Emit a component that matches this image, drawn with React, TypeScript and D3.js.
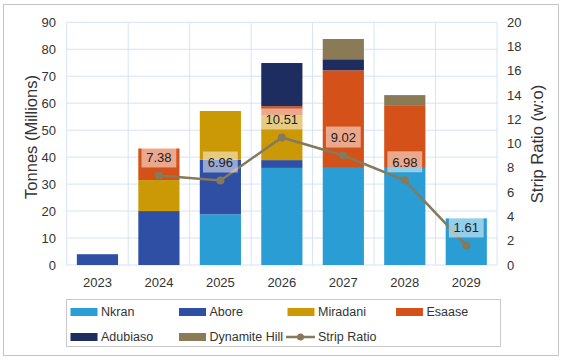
import React from 'react';
import * as d3 from 'd3';

const years = ['2023', '2024', '2025', '2026', '2027', '2028', '2029'];
const nkran = [0, 0, 18.8, 36, 36, 36, 17.3];
const abore = [4, 20, 20.3, 2.9, 0, 0, 0];
const miradani = [0, 11.5, 18, 16.7, 0, 0, 0];
const esaase = [0, 11.7, 0, 3.3, 36.2, 23, 0];
const adubiaso = [0, 0, 0, 16, 4.1, 0, 0];
const dynamiteHill = [0, 0, 0, 0, 7.5, 4, 0];
const stripRatio: (number | null)[] = [null, 7.38, 6.96, 10.51, 9.02, 6.98, 1.61];

const seriesNames = ['Nkran', 'Abore', 'Miradani', 'Esaase', 'Adubiaso', 'Dynamite Hill'];
const seriesValues = [nkran, abore, miradani, esaase, adubiaso, dynamiteHill];
const seriesColors = ['#2a9dd4', '#2f4fa5', '#cc9906', '#d4511a', '#1e2d60', '#8a7a56'];
const lineColor = '#857a5b';
const gridColor = '#d5e3f6';
const font = 'Arial, "Liberation Sans", sans-serif';

const W = 568;
const H = 362;
const plot = { left: 66.7, right: 497, top: 22.3, bottom: 265 };

export default function App() {
  const x = d3.scaleBand().domain(years).range([plot.left, plot.right]).paddingInner(0.33).paddingOuter(0.165);
  const xGrid = d3.scaleBand().domain(years).range([plot.left, plot.right]);
  const y = d3.scaleLinear().domain([0, 90]).range([plot.bottom, plot.top]);
  const y2 = d3.scaleLinear().domain([0, 20]).range([plot.bottom, plot.top]);

  const table = years.map((yr, i) => {
    const row: any = { year: yr };
    seriesNames.forEach((n, k) => { row[n] = seriesValues[k][i]; });
    return row;
  });
  const stacked = d3.stack().keys(seriesNames)(table);

  const pts = years
    .map((yr, i) => ({ yr, v: stripRatio[i] }))
    .filter(d => d.v !== null) as { yr: string; v: number }[];
  const line = d3.line<{ yr: string; v: number }>()
    .x(d => x(d.yr)! + x.bandwidth() / 2)
    .y(d => y2(d.v));

  const legendItems = [
    { name: 'Nkran', color: seriesColors[0], x: 70.5, y: 312 },
    { name: 'Abore', color: seriesColors[1], x: 179, y: 312 },
    { name: 'Miradani', color: seriesColors[2], x: 287.5, y: 312 },
    { name: 'Esaase', color: seriesColors[3], x: 396, y: 312 },
    { name: 'Adubiaso', color: seriesColors[4], x: 70.5, y: 337 },
    { name: 'Dynamite Hill', color: seriesColors[5], x: 179, y: 337 },
  ];

  return (
    <svg width={W} height={H} style={{ position: 'absolute', left: 0, top: 0, background: '#fff' }} fontFamily={font}>
      <rect x={3.5} y={4.5} width={555} height={351} fill="#fff" stroke="#c4c4c4" />

      {/* grid */}
      {y.ticks(9).map(t => (
        <line key={'h' + t} x1={plot.left} x2={plot.right} y1={y(t)} y2={y(t)} stroke={gridColor} />
      ))}
      {years.map(yr => (
        <line key={'v' + yr} x1={xGrid(yr)} x2={xGrid(yr)} y1={plot.top} y2={plot.bottom} stroke={gridColor} />
      ))}
      <line x1={plot.right} x2={plot.right} y1={plot.top} y2={plot.bottom} stroke={gridColor} />

      {/* bars */}
      {stacked.map((s, k) => (
        <g key={s.key} fill={seriesColors[k]}>
          {s.map((d, i) => d[1] - d[0] > 0 ? (
            <rect key={i} x={x(years[i])} width={x.bandwidth()} y={y(d[1])} height={y(d[0]) - y(d[1])} />
          ) : null)}
        </g>
      ))}

      {/* strip ratio line */}
      <path d={line(pts) || ''} fill="none" stroke={lineColor} strokeWidth={2.5} />
      {pts.map(d => (
        <circle key={d.yr} cx={x(d.yr)! + x.bandwidth() / 2} cy={y2(d.v)} r={4} fill={lineColor} />
      ))}

      {/* labels */}
      {pts.map(d => {
        const cx = x(d.yr)! + x.bandwidth() / 2;
        const cy = y2(d.v);
        const txt = d.v.toFixed(2);
        const w = txt.length * 7.2 + 6;
        return (
          <g key={'l' + d.yr}>
            <rect x={cx - w / 2} y={cy - 29} width={w} height={21} fill="#fff" fillOpacity={0.5} />
            <text x={cx} y={cy - 13.5} textAnchor="middle" fontSize={13} fill="#222">{txt}</text>
          </g>
        );
      })}

      {/* left axis */}
      {y.ticks(9).map(t => (
        <text key={'yl' + t} x={56} y={y(t)} dy="0.35em" textAnchor="end" fontSize={13} fill="#333">{t}</text>
      ))}
      {/* right axis */}
      {y2.ticks(10).map(t => (
        <text key={'yr' + t} x={507} y={y2(t)} dy="0.35em" textAnchor="start" fontSize={13} fill="#333">{t}</text>
      ))}
      {/* x axis */}
      {years.map(yr => (
        <text key={'x' + yr} x={x(yr)! + x.bandwidth() / 2} y={287} textAnchor="middle" fontSize={13} fill="#333">{yr}</text>
      ))}

      <text transform="translate(37,137) rotate(-90)" textAnchor="middle" fontSize={16.5} fill="#333">Tonnes (Millions)</text>
      <text transform="translate(543,144) rotate(-90)" textAnchor="middle" fontSize={16.5} fill="#333">Strip Ratio (w:o)</text>

      {/* legend */}
      <rect x={66.5} y={299.5} width={434} height={47} fill="#fff" stroke="#c8c8c8" />
      {legendItems.map(it => (
        <g key={it.name}>
          <rect x={it.x} y={it.y - 4} width={27} height={8} fill={it.color} />
          <text x={it.x + 30.5} y={it.y} dy="0.35em" fontSize={12.5} fill="#333">{it.name}</text>
        </g>
      ))}
      <line x1={286} x2={315} y1={337} y2={337} stroke={lineColor} strokeWidth={2.5} />
      <circle cx={300.5} cy={337} r={3.5} fill={lineColor} />
      <text x={318} y={337} dy="0.35em" fontSize={12.5} fill="#333">Strip Ratio</text>
    </svg>
  );
}
